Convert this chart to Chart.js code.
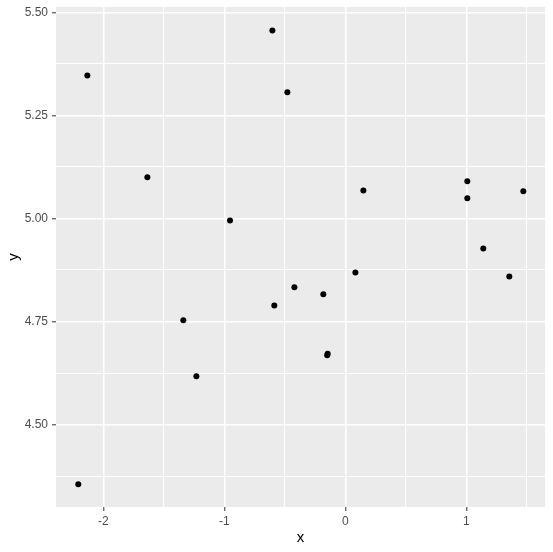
<!DOCTYPE html>
<html>
<head>
<meta charset="utf-8">
<script src="https://cdn.jsdelivr.net/npm/chart.js@4"></script>
<style>
  html, body { margin: 0; padding: 0; background: #fff; }
  #wrap { width: 553px; height: 552px; }
</style>
</head>
<body>
<div id="wrap"><canvas id="chart" width="553" height="552"></canvas></div>
<script>
// Scatter values
const xValues = [-2.132, -1.636, -2.207, -0.603, -0.479, 0.149, 1.008, 1.008, 1.471, -0.953,
                 -1.339, -1.231, -0.587, -0.421, -0.182, -0.146, -0.150, 0.083, 1.140, 1.355];
const yValues = [5.347, 5.100, 4.355, 5.456, 5.306, 5.068, 5.090, 5.049, 5.066, 4.995,
                 4.753, 4.617, 4.789, 4.833, 4.816, 4.672, 4.668, 4.869, 4.927, 4.859];

// Axis ranges and tick labels
const xRange = [-2.391, 1.650];
const yRange = [4.300, 5.513];
const xTickLabels = [-2, -1, 0, 1];
const yTickLabels = [4.50, 4.75, 5.00, 5.25, 5.50];

const points = xValues.map((x, i) => ({ x: x, y: yValues[i] }));

// grey panel behind the grid, like ggplot
const panelBg = {
  id: 'panelBg',
  beforeDraw(chart) {
    const { ctx, chartArea: a } = chart;
    ctx.save();
    ctx.fillStyle = '#EBEBEB';
    ctx.fillRect(a.left, a.top, a.right - a.left, a.bottom - a.top);
    ctx.restore();
  }
};

function isMajor(value, labels) {
  return labels.some(v => Math.abs(v - value) < 1e-6);
}

const tickFont = { family: 'Liberation Sans, Arial, sans-serif', size: 12 };
const titleFont = { family: 'Liberation Sans, Arial, sans-serif', size: 15 };

new Chart(document.getElementById('chart'), {
  type: 'scatter',
  data: {
    datasets: [{
      data: points,
      backgroundColor: '#000',
      borderColor: '#000',
      pointRadius: 3,
      pointHoverRadius: 3,
      borderWidth: 0
    }]
  },
  plugins: [panelBg],
  options: {
    responsive: false,
    animation: false,
    events: [],
    layout: { padding: { top: 7, right: 8, left: 0, bottom: 0 } },
    plugins: { legend: { display: false }, tooltip: { enabled: false } },
    scales: {
      x: {
        type: 'linear',
        min: xRange[0],
        max: xRange[1],
        afterFit(scale) {
          scale.height = 45;
          scale.paddingLeft = 0;
          scale.paddingRight = 0;
        },
        border: { display: false },
        grid: {
          color: '#FFFFFF',
          lineWidth: ctx => isMajor(ctx.tick.value, xTickLabels) ? 1.6 : 1,
          tickColor: ctx => isMajor(ctx.tick.value, xTickLabels) ? '#333333' : 'rgba(0,0,0,0)',
          tickWidth: 1,
          tickLength: 4
        },
        ticks: {
          stepSize: 0.5,
          includeBounds: false,
          maxRotation: 0,
          autoSkip: false,
          padding: 3,
          color: '#4D4D4D',
          font: tickFont,
          callback: v => isMajor(v, xTickLabels) ? String(Math.round(v)) : ''
        },
        title: { display: true, text: 'x', color: '#000', font: titleFont, padding: 5 }
      },
      y: {
        type: 'linear',
        min: yRange[0],
        max: yRange[1],
        afterFit(scale) {
          scale.width = 56;
          scale.paddingTop = 0;
          scale.paddingBottom = 0;
        },
        border: { display: false },
        grid: {
          color: '#FFFFFF',
          lineWidth: ctx => isMajor(ctx.tick.value, yTickLabels) ? 1.6 : 1,
          tickColor: ctx => isMajor(ctx.tick.value, yTickLabels) ? '#333333' : 'rgba(0,0,0,0)',
          tickWidth: 1,
          tickLength: 4
        },
        ticks: {
          stepSize: 0.125,
          includeBounds: false,
          autoSkip: false,
          padding: 4,
          color: '#4D4D4D',
          font: tickFont,
          callback: v => isMajor(v, yTickLabels) ? v.toFixed(2) : ''
        },
        title: { display: true, text: 'y', color: '#000', font: titleFont, padding: 5 }
      }
    }
  }
});
</script>
</body>
</html>
